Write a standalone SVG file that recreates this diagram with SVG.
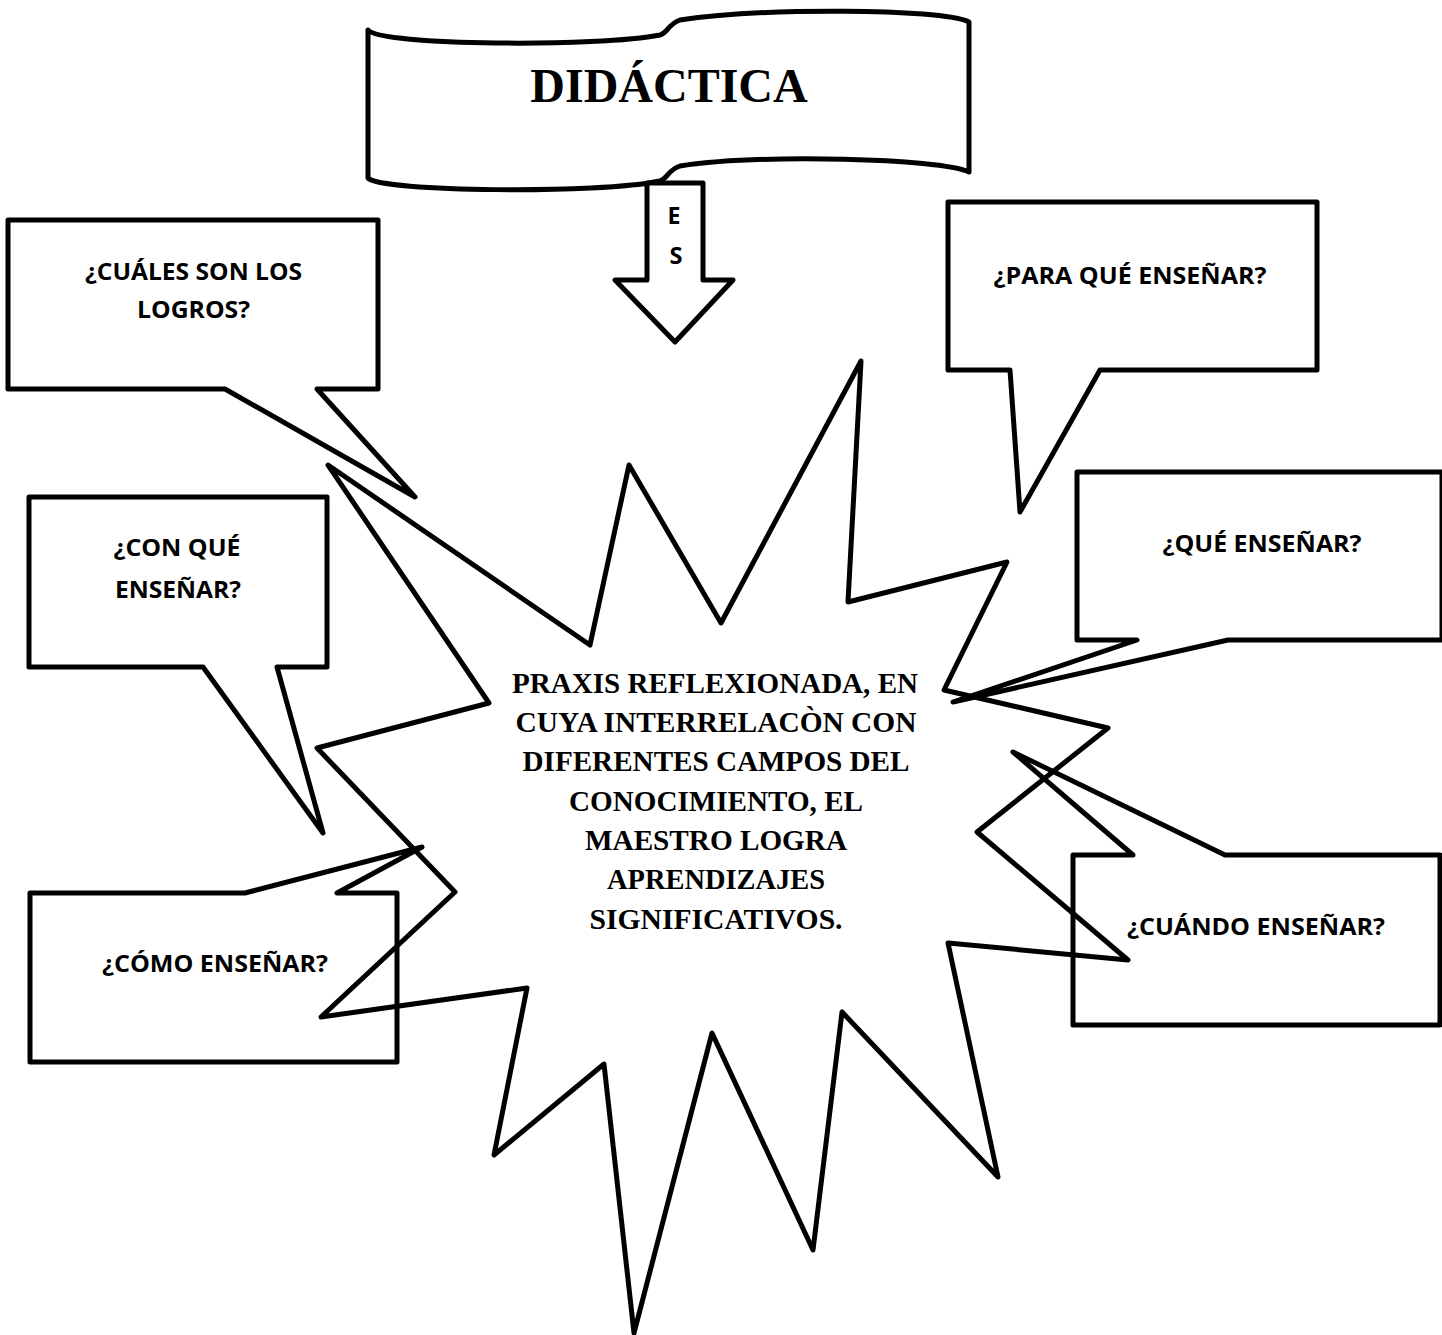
<svg xmlns="http://www.w3.org/2000/svg" width="1442" height="1335" viewBox="0 0 1442 1335">
<style>
.shape{fill:#fff;stroke:#000;stroke-width:5;stroke-linejoin:round}
.star{fill:none;stroke:#000;stroke-width:5;stroke-linejoin:round}
.lbl{font-family:"Open Sans",Lato,"Liberation Sans",sans-serif;font-weight:700;font-size:23px;fill:#000;text-anchor:middle}
.ser{font-family:"Liberation Serif","Times New Roman",serif;font-weight:700;fill:#000;text-anchor:middle}
</style>
<rect width="1442" height="1335" fill="#fff"/>
<g id="didactica">
<path class="shape" d="M368,30 C380,46 600,47 660,35 C668,33 668,24 680,20 C760,8 940,8 969,22 L969,172 C940,158 760,154 680,166 C668,170 668,178 660,181 C600,194 380,192 368,178 Z"/>
<text class="ser" x="669" y="102" font-size="48">DIDÁCTICA</text>
</g>
<g id="es">
<polygon class="shape" points="647,183 703,183 703,280 733,280 675,342 615,280 647,280"/>
<text class="lbl" x="674" y="224" textLength="13" lengthAdjust="spacingAndGlyphs">E</text>
<text class="lbl" x="676" y="264" textLength="13" lengthAdjust="spacingAndGlyphs">S</text>
</g>
<g id="logros">
<path class="shape" d="M8,220 H378 V389 H317 L415,497 L225,389 H8 Z"/>
<text class="lbl" x="193.5" y="280" textLength="217" lengthAdjust="spacingAndGlyphs">¿CUÁLES SON LOS</text>
<text class="lbl" x="193.5" y="318" textLength="113" lengthAdjust="spacingAndGlyphs">LOGROS?</text>
</g>
<g id="para-que">
<path class="shape" d="M948,202 H1317 V370 H1100 L1020,512 L1010,370 H948 Z"/>
<text class="lbl" x="1130" y="284" textLength="273" lengthAdjust="spacingAndGlyphs">¿PARA QUÉ ENSEÑAR?</text>
</g>
<g id="con-que">
<path class="shape" d="M29,497 H327 V667 H277 L323,833 L203,667 H29 Z"/>
<text class="lbl" x="177" y="556" textLength="127" lengthAdjust="spacingAndGlyphs">¿CON QUÉ</text>
<text class="lbl" x="178" y="598" textLength="126" lengthAdjust="spacingAndGlyphs">ENSEÑAR?</text>
</g>
<g id="que">
<path class="shape" d="M1077,472 H1442 V640 H1228 L953,702 L1137,640 H1077 Z"/>
<text class="lbl" x="1262" y="552" textLength="199" lengthAdjust="spacingAndGlyphs">¿QUÉ ENSEÑAR?</text>
</g>
<g id="como">
<path class="shape" d="M30,893 H245 L422,847 L337,893 H397 V1062 H30 Z"/>
<text class="lbl" x="215" y="972" textLength="226" lengthAdjust="spacingAndGlyphs">¿CÓMO ENSEÑAR?</text>
</g>
<g id="cuando">
<path class="shape" d="M1073,855 H1133 L1013,752 L1225,855 H1440 V1025 H1073 Z"/>
<text class="lbl" x="1256" y="935" textLength="258" lengthAdjust="spacingAndGlyphs">¿CUÁNDO ENSEÑAR?</text>
</g>
<g id="praxis">
<polygon class="star" points="328,465 590,645 629,465 721,623 861,361 848,602 1007,562 944,690 1108,728 977,832 1128,960 948,943 998,1177 842,1012 813,1250 712,1033 634,1333 604,1064 494,1155 527,988 321,1017 455,892 317,748 489,703"/>
<text class="ser" font-size="30" x="715" y="693" textLength="406" lengthAdjust="spacingAndGlyphs">PRAXIS REFLEXIONADA, EN</text>
<text class="ser" font-size="30" x="716" y="732" textLength="401" lengthAdjust="spacingAndGlyphs">CUYA INTERRELACÒN CON</text>
<text class="ser" font-size="30" x="716" y="771" textLength="387" lengthAdjust="spacingAndGlyphs">DIFERENTES CAMPOS DEL</text>
<text class="ser" font-size="30" x="716" y="811" textLength="294" lengthAdjust="spacingAndGlyphs">CONOCIMIENTO, EL</text>
<text class="ser" font-size="30" x="716" y="850" textLength="262" lengthAdjust="spacingAndGlyphs">MAESTRO LOGRA</text>
<text class="ser" font-size="30" x="716" y="889" textLength="218" lengthAdjust="spacingAndGlyphs">APRENDIZAJES</text>
<text class="ser" font-size="30" x="716" y="929" textLength="253" lengthAdjust="spacingAndGlyphs">SIGNIFICATIVOS.</text>
</g>
<g id="connectors"></g>
</svg>
